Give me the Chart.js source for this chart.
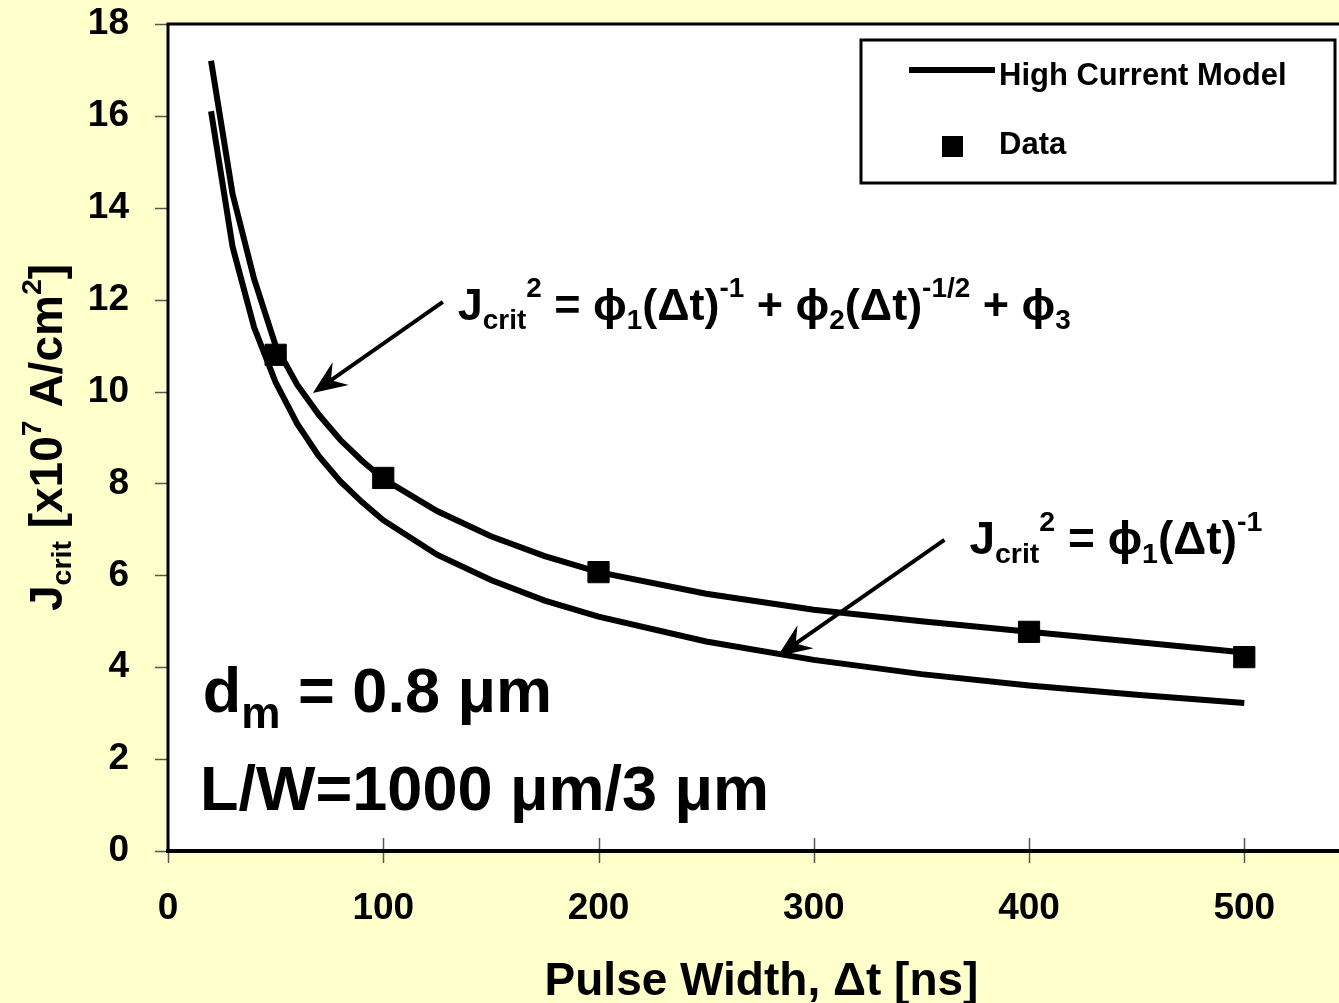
<!DOCTYPE html>
<html>
<head>
<meta charset="utf-8">
<script src="https://cdn.jsdelivr.net/npm/chart.js@4.4.1/dist/chart.umd.min.js"></script>
<style>
  html, body { margin: 0; padding: 0; background: #FFFFCC; overflow: hidden; }
  #wrap { width: 1339px; height: 1003px; position: relative; }
  #jcritChart { display: block; }
</style>
</head>
<body>
<div id="wrap"><canvas id="jcritChart"></canvas></div>
<script>
// Pulse width [ns] at which the two model curves were sampled
const pulseWidth = [20, 30, 40, 50, 60, 70, 80, 90, 100, 125, 150, 175, 200, 250, 300, 350, 400, 450, 500];
// J_crit^2 = phi1/dt + phi2/sqrt(dt) + phi3  (high current model)
const highCurrentModel = [17.2, 14.3, 12.45, 11.0, 10.15, 9.5, 8.95, 8.5, 8.1, 7.4, 6.85, 6.42, 6.07, 5.6, 5.25, 5.0, 4.77, 4.55, 4.32];
// J_crit^2 = phi1/dt
const simpleModel = [16.1, 13.15, 11.4, 10.2, 9.3, 8.6, 8.05, 7.6, 7.2, 6.45, 5.9, 5.45, 5.1, 4.56, 4.16, 3.85, 3.6, 3.4, 3.22];
// measured points
const dataWidth = [50, 100, 200, 400, 500];
const dataJcrit = [10.8, 8.12, 6.07, 4.77, 4.22];

const xTickStep = 100;
const yTickStep = 2;

const FONT = '"Liberation Sans", Arial, sans-serif';
const font = (size) => 'bold ' + size + 'px ' + FONT;

const toPoints = (xs, ys) => xs.map((x, i) => ({ x: x, y: ys[i] }));

// draws text made of normal / sub / sup pieces, left aligned on baseline
function richWidth(ctx, parts, size) {
    let w = 0;
    parts.forEach(p => {
        ctx.font = font(p.s ? size * (p.k || 0.62) : size);
        w += ctx.measureText(p.t).width;
    });
    return w;
}
function drawRich(ctx, x, y, parts, size) {
    ctx.textAlign = 'left';
    ctx.textBaseline = 'alphabetic';
    parts.forEach(p => {
        let dy = 0;
        let fs = size;
        if (p.s === 'sub') { fs = size * (p.k || 0.62); dy = size * (p.d || 0.2); }
        if (p.s === 'sup') { fs = size * (p.k || 0.62); dy = -size * (p.d || 0.42); }
        ctx.font = font(fs);
        ctx.fillText(p.t, x, y + dy);
        x += ctx.measureText(p.t).width;
    });
}
function arrow(ctx, x1, y1, x2, y2) {
    const a = Math.atan2(y2 - y1, x2 - x1);
    ctx.lineWidth = 4;
    ctx.beginPath();
    ctx.moveTo(x1, y1);
    ctx.lineTo(x2 - Math.cos(a) * 14, y2 - Math.sin(a) * 14);
    ctx.stroke();
    ctx.save();
    ctx.translate(x2, y2);
    ctx.rotate(a);
    ctx.beginPath();
    ctx.moveTo(0, 0);
    ctx.lineTo(-34, -14);
    ctx.lineTo(-22, 0);
    ctx.lineTo(-34, 14);
    ctx.closePath();
    ctx.fill();
    ctx.restore();
}

const decorations = {
    id: 'decorations',
    beforeDraw(chart) {
        const { ctx, chartArea: ca } = chart;
        ctx.save();
        ctx.fillStyle = '#FFFFCC';
        ctx.fillRect(0, 0, chart.width, chart.height);
        ctx.fillStyle = '#ffffff';
        ctx.fillRect(ca.left, ca.top, ca.right - ca.left, ca.bottom - ca.top);
        ctx.restore();
    },
    afterDatasetsDraw(chart) {
        const { ctx, chartArea: ca, scales: { x, y } } = chart;
        ctx.save();

        // tick marks
        ctx.strokeStyle = '#555';
        ctx.lineWidth = 1.5;
        x.ticks.forEach(t => {
            const px = Math.round(x.getPixelForValue(t.value)) + 0.5;
            ctx.beginPath();
            ctx.moveTo(px, ca.bottom - 13);
            ctx.lineTo(px, ca.bottom + 12);
            ctx.stroke();
        });
        y.ticks.forEach(t => {
            const py = Math.round(y.getPixelForValue(t.value)) + 0.5;
            ctx.beginPath();
            ctx.moveTo(ca.left - 13, py);
            ctx.lineTo(ca.left, py);
            ctx.stroke();
        });

        // frame
        ctx.strokeStyle = '#000';
        ctx.lineWidth = 3;
        ctx.beginPath();
        ctx.moveTo(ca.right, ca.top);
        ctx.lineTo(ca.left, ca.top);
        ctx.lineTo(ca.left, ca.bottom);
        ctx.stroke();
        ctx.lineWidth = 4;
        ctx.beginPath();
        ctx.moveTo(ca.left - 2, ca.bottom);
        ctx.lineTo(ca.right, ca.bottom);
        ctx.stroke();

        ctx.fillStyle = '#000';
        ctx.strokeStyle = '#000';

        // annotation arrows (data coordinates)
        arrow(ctx, x.getPixelForValue(127.7), y.getPixelForValue(11.95), x.getPixelForValue(67.3), y.getPixelForValue(9.97));
        arrow(ctx, x.getPixelForValue(360.7), y.getPixelForValue(6.77), x.getPixelForValue(283.2), y.getPixelForValue(4.24));

        // equations
        drawRich(ctx, x.getPixelForValue(134.6), y.getPixelForValue(11.56), [
            { t: 'J' }, { t: 'crit', s: 'sub' }, { t: '2', s: 'sup', d: 0.5 }, { t: ' = ϕ' }, { t: '1', s: 'sub' },
            { t: '(Δt)' }, { t: '-1', s: 'sup', d: 0.5 }, { t: ' + ϕ' }, { t: '2', s: 'sub' }, { t: '(Δt)' },
            { t: '-1/2', s: 'sup', d: 0.5 }, { t: ' + ϕ' }, { t: '3', s: 'sub' }
        ], 45);
        drawRich(ctx, x.getPixelForValue(372.3), y.getPixelForValue(6.46), [
            { t: 'J' }, { t: 'crit', s: 'sub' }, { t: '2', s: 'sup', d: 0.5 }, { t: ' = ϕ' }, { t: '1', s: 'sub' },
            { t: '(Δt)' }, { t: '-1', s: 'sup', d: 0.5 }
        ], 46);

        drawRich(ctx, x.getPixelForValue(16.2), y.getPixelForValue(3.03), [
            { t: 'd' }, { t: 'm', s: 'sub', k: 0.7, d: 0.25 }, { t: ' = 0.8 μm' }
        ], 63);
        drawRich(ctx, x.getPixelForValue(14.9), y.getPixelForValue(0.89), [
            { t: 'L/W=1000 μm/3 μm' }
        ], 63);

        // legend
        const lx = ca.right - 478, ly = ca.top + 16;
        ctx.fillStyle = '#fff';
        ctx.fillRect(lx, ly, 474, 143);
        ctx.lineWidth = 3;
        ctx.strokeRect(lx, ly, 474, 143);
        ctx.fillStyle = '#000';
        ctx.lineWidth = 6;
        ctx.beginPath();
        ctx.moveTo(lx + 48, ly + 30);
        ctx.lineTo(lx + 134, ly + 30);
        ctx.stroke();
        ctx.fillRect(lx + 81, ly + 96, 21, 21);
        ctx.font = font(31);
        ctx.textAlign = 'left';
        ctx.textBaseline = 'middle';
        ctx.fillText('High Current Model', lx + 138, ly + 36);
        ctx.fillText('Data', lx + 138, ly + 105);

        // axis titles
        ctx.font = font(46);
        ctx.textAlign = 'center';
        ctx.textBaseline = 'alphabetic';
        ctx.fillText('Pulse Width, Δt [ns]', (ca.left + ca.right) / 2 + 8, 995);

        const yParts = [
            { t: 'J' }, { t: 'crit', s: 'sub' }, { t: ' [x10' }, { t: '7', s: 'sup', d: 0.45 },
            { t: ' A/cm' }, { t: '2', s: 'sup', d: 0.45 }, { t: ']' }
        ];
        const w = richWidth(ctx, yParts, 46);
        ctx.translate(62, (ca.top + ca.bottom) / 2);
        ctx.rotate(-Math.PI / 2);
        drawRich(ctx, -w / 2, 0, yParts, 46);
        ctx.restore();
    }
};

new Chart(document.getElementById('jcritChart'), {
    type: 'scatter',
    data: {
        datasets: [{
            label: 'High Current Model',
            data: toPoints(pulseWidth, highCurrentModel),
            showLine: true,
            borderColor: '#000',
            borderWidth: 6,
            pointRadius: 0,
            tension: 0
        }, {
            label: 'Simple Model',
            data: toPoints(pulseWidth, simpleModel),
            showLine: true,
            borderColor: '#000',
            borderWidth: 6,
            pointRadius: 0,
            tension: 0
        }, {
            label: 'Data',
            data: toPoints(dataWidth, dataJcrit),
            showLine: false,
            pointStyle: 'rect',
            pointRadius: 15,
            backgroundColor: '#000',
            borderColor: '#000',
            borderWidth: 1
        }]
    },
    options: {
        responsive: true,
        maintainAspectRatio: false,
        animation: false,
        layout: { autoPadding: false, padding: { top: 24, left: 0, right: 0, bottom: 0 } },
        plugins: {
            legend: { display: false },
            tooltip: { enabled: false }
        },
        scales: {
            x: {
                type: 'linear',
                min: 0,
                max: 544,
                grid: { display: false },
                border: { display: false },
                ticks: {
                    stepSize: xTickStep,
                    includeBounds: false,
                    padding: 28,
                    color: '#000',
                    font: { family: FONT, size: 37, weight: 'bold' }
                },
                afterFit: (scale) => {
                    scale.height = 152;
                    scale.paddingLeft = 0;
                    scale.paddingRight = 0;
                }
            },
            y: {
                min: 0,
                max: 18,
                grid: { display: false },
                border: { display: false },
                ticks: {
                    stepSize: yTickStep,
                    padding: 31,
                    color: '#000',
                    font: { family: FONT, size: 37, weight: 'bold' }
                },
                afterFit: (scale) => {
                    scale.width = 168;
                    scale.paddingTop = 0;
                    scale.paddingBottom = 0;
                }
            }
        }
    },
    plugins: [decorations]
});
</script>
</body>
</html>
